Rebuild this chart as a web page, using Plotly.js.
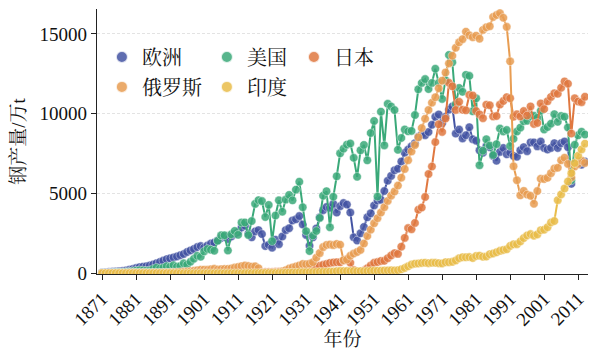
<!DOCTYPE html>
<html>
<head>
<meta charset="utf-8">
<script src="https://cdn.plot.ly/plotly-3.0.1.min.js"></script>
<style>html,body{margin:0;padding:0;background:#fff;}#chart{width:590px;height:350px;}</style>
</head>
<body>
<div id="chart"></div>
<script>
// Years 1871-2013
var startYear = 1871;
var endYear = 2013;

var seriesNames = ['欧洲', '美国', '日本', '俄罗斯', '印度'];

// 欧洲 (万t)
var europe = [
50,60,70,85,100,120,140,170,210,260,
320,380,410,430,480,540,630,700,790,880,
930,990,1050,1130,1200,1330,1430,1520,1640,1700,
1600,1740,1860,1920,2050,2200,2280,2140,2300,2460,
2580,2860,2980,2480,2250,2620,2700,2450,1700,1780,
1600,2100,1820,2300,2700,2820,3300,3380,3580,3050,
2400,1720,2250,2800,3500,3950,4150,4100,4350,3800,
4200,4400,4300,3800,2250,2050,2500,2900,3500,3750,
4250,4550,4600,5150,5800,6100,6450,6550,7000,7550,
7750,7950,8150,8550,8700,8650,8850,9300,9800,9950,
9400,9800,10250,10450,8750,9000,8450,8650,9150,8400,
8300,7700,7550,7950,7900,7350,7050,7600,7850,7450,
7550,7350,7300,7700,7900,7650,8200,8200,7950,8250,
7850,7750,7850,8150,7850,8150,8250,7900,5600,6900,
7000,6800,7000
];

// 美国 (万t)
var usa = [
7,13,18,22,40,54,58,74,95,127,
160,179,171,156,174,262,344,295,345,435,
397,503,409,447,621,536,722,904,1090,1035,
1367,1518,1474,1410,2035,2377,2375,1425,2434,2651,
2406,3175,3180,2389,3267,4346,4578,4518,3522,4281,
2010,3617,4567,3854,4612,4907,4566,5237,5734,4135,
2636,1390,2360,2647,3464,4853,5137,2881,4790,6077,
7515,7805,8059,8132,7230,6042,7701,8041,7074,8785,
9544,4800,10125,8012,10617,10452,10225,7734,8477,9007,
8892,8920,9912,11528,11926,12165,11541,11926,12815,11931,
10926,12087,13680,13220,10582,11612,11370,12431,12369,10146,
10961,6766,7676,8394,8007,7403,8088,9065,8885,8973,
7974,8432,8879,9124,9519,9554,9849,9866,9743,10180,
9010,9159,9368,9968,9490,9856,9810,9136,5820,8050,
8640,8870,8690
];

// 日本 (万t)
var japan = [
0,0,0,0,0,0,0,0,0,0,
0,0,0,0,0,0,0,0,0,0,
0,0,0,0,0,0,0,0,0,0,
1,2,4,6,10,12,14,16,20,25,
28,26,26,28,51,56,77,81,81,81,
83,91,96,110,130,151,169,191,229,229,
188,240,320,384,470,522,580,647,670,686,
684,804,884,650,196,56,95,172,311,484,
650,699,766,775,941,1111,1257,1212,1663,2214,
2827,2755,3150,3980,4116,4778,6215,6689,8217,9332,
8856,9690,11932,11713,10231,10740,10240,10210,11175,11140,
10168,9955,9718,10559,10528,9828,9851,10568,10791,11034,
10965,9813,9963,9829,10164,9880,10455,9355,9419,10644,
10287,10775,11051,11272,11247,11623,12020,11874,8753,10960,
10760,10720,11060
];

// 俄罗斯 (万t)
var russia = [
1,1,1,1,2,5,8,14,22,31,
30,25,22,21,19,24,22,23,26,38,
43,51,63,73,88,104,120,147,180,222,
220,210,243,276,227,252,263,266,298,350,
390,443,484,447,412,428,309,40,20,16,
22,37,71,114,187,293,359,425,490,576,
562,593,687,969,1259,1635,1770,1800,1760,1832,
1790,810,850,1090,1230,1330,1460,1860,2330,2730,
3130,3450,3800,4140,4530,4860,5120,5490,5990,6530,
7080,7630,8030,8520,9100,9680,10230,10690,11030,11590,
12070,12580,13150,13630,14130,14470,14670,15140,14910,14790,
14890,14700,15250,15410,15480,16060,16180,16300,16010,15440,
13280,6700,5830,4880,5160,4930,4850,4350,5150,5920,
5900,5980,6270,6560,6610,7080,7240,6850,6000,6690,
6850,7060,6910
];

// 印度 (万t)
var india = [
0,0,0,0,0,0,0,0,0,0,
0,0,0,0,0,0,0,0,0,0,
0,0,0,0,0,0,0,0,0,0,
0,0,0,0,0,0,0,0,0,0,
0,0,5,7,9,12,14,15,16,16,
18,13,15,26,34,40,43,38,59,59,
62,60,72,80,89,87,91,99,105,127,
136,132,136,129,134,128,128,125,136,146,
150,160,150,171,173,178,175,184,245,329,
430,540,600,610,640,660,630,650,650,630,
610,690,690,710,800,940,1000,1000,1010,950,
1080,1100,1030,1040,1190,1230,1310,1400,1460,1500,
1710,1810,1820,1990,2200,2370,2450,2350,2430,2690,
2730,2880,3180,3270,4580,4940,5310,5750,6270,6900,
7360,7760,8120
];

var xTickLabels = ['1871','1881','1891','1901','1911','1921','1931','1941','1951','1961','1971','1981','1991','2001','2011'];
var yTickValues = [0, 5000, 10000, 15000];

var years = [];
for (var y = startYear; y <= endYear; y++) years.push(y);

var allSeries = [europe, usa, japan, russia, india];
var colors = ['#4454a3', '#3aa979', '#e07840', '#e89d52', '#e9bd4a'];
var legendIds = ['legend', 'legend', 'legend', 'legend2', 'legend2'];
var legendWidths = [60, 42, 40, 60, 40];

var FONT = "'Liberation Serif', 'Noto Serif CJK SC', 'Noto Sans CJK SC', serif";

var traces = [];
for (var i = 0; i < allSeries.length; i++) {
  traces.push({
    x: years, y: allSeries[i], type: 'scatter', mode: 'lines',
    line: {color: colors[i], width: 2},
    showlegend: false, hoverinfo: 'skip'
  });
  traces.push({
    x: years, y: allSeries[i], type: 'scatter', mode: 'markers',
    name: seriesNames[i],
    legend: legendIds[i],
    legendwidth: legendWidths[i],
    marker: {color: colors[i], size: 8.5, opacity: 0.85, line: {color: 'rgba(255,255,255,0.8)', width: 0.6}}
  });
}

var layout = {
  width: 590, height: 350,
  margin: {l: 97, r: 2, t: 9, b: 76},
  paper_bgcolor: '#fff', plot_bgcolor: '#fff',
  font: {family: FONT, size: 19, color: '#111'},
  showlegend: true,
  legend: {
    orientation: 'h', x: 0.01, xanchor: 'left', y: 0.819, yanchor: 'middle',
    bgcolor: 'rgba(0,0,0,0)', itemsizing: 'constant',
    font: {family: FONT, size: 20, color: '#111'}
  },
  legend2: {
    orientation: 'h', x: 0.01, xanchor: 'left', y: 0.706, yanchor: 'middle',
    bgcolor: 'rgba(0,0,0,0)', itemsizing: 'constant',
    font: {family: FONT, size: 20, color: '#111'}
  },
  xaxis: {
    range: [1869.5, 2013.9],
    tickvals: xTickLabels.map(Number), ticktext: xTickLabels,
    tickangle: -45, ticks: 'outside', ticklen: 5, tickwidth: 1.2, tickcolor: '#222',
    showline: true, linecolor: '#222', linewidth: 1.2,
    showgrid: false, zeroline: false,
    tickfont: {family: FONT, size: 19, color: '#111'},
    title: {text: '年份', font: {family: FONT, size: 19, color: '#111'}, standoff: 6}
  },
  yaxis: {
    range: [-50, 16560],
    tickvals: yTickValues, ticktext: yTickValues.map(String),
    ticks: 'outside', ticklen: 5, tickwidth: 1.2, tickcolor: '#222',
    showline: true, linecolor: '#222', linewidth: 1.2,
    showgrid: true, gridcolor: '#e3e3e3', gridwidth: 1, griddash: '3px,2px',
    zeroline: false,
    tickfont: {family: FONT, size: 19, color: '#111'},
    title: {text: '钢产量/万t', font: {family: FONT, size: 19, color: '#111'}, standoff: 8}
  }
};

Plotly.newPlot('chart', traces, layout, {staticPlot: true, displayModeBar: false});
</script>
</body>
</html>
